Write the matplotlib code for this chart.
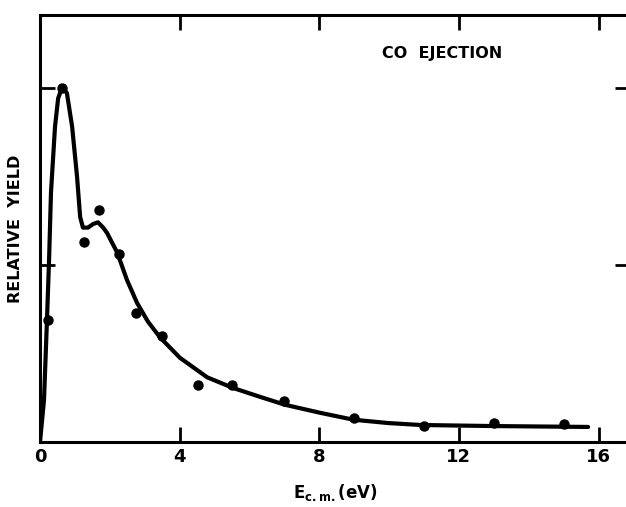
import matplotlib.pyplot as plt
import numpy as np

# measured points (dots)
e_pts = [0.23, 0.63, 1.26, 1.69, 2.26, 2.75, 3.5, 4.53, 5.5, 7.0, 9.0, 11.0, 13.0, 15.0]
y_pts = [0.69, 2.0, 1.13, 1.31, 1.06, 0.73, 0.60, 0.32, 0.32, 0.23, 0.135, 0.09, 0.107, 0.10]

# hand drawn fit curve
e_fit = [0.0, 0.115, 0.20, 0.26, 0.315, 0.43, 0.52, 0.63, 0.77, 0.92, 1.06, 1.15, 1.23,
         1.375, 1.52, 1.66, 1.81, 1.92, 2.21, 2.49, 2.78, 3.09, 3.44, 4.01, 4.79, 5.53,
         6.30, 7.02, 8.02, 8.97, 9.97, 10.9, 12.98, 15.7]
y_fit = [0.0, 0.237, 0.69, 1.03, 1.41, 1.78, 1.94, 2.0, 1.97, 1.78, 1.50, 1.27, 1.21,
         1.21, 1.23, 1.24, 1.21, 1.18, 1.07, 0.915, 0.785, 0.68, 0.59, 0.475, 0.365, 0.305,
         0.255, 0.21, 0.165, 0.126, 0.107, 0.096, 0.09, 0.085]

xticks = [0, 4, 8, 12, 16]

fig = plt.figure(figsize=(6.26, 5.07), dpi=100)
ax = fig.add_axes([40/626, 65/507, 590/626, 427/507])

ax.plot(e_fit, y_fit, color='black', lw=3, solid_capstyle='round', solid_joinstyle='round')
ax.plot(e_pts, y_pts, 'o', color='black', ms=6.5)

ax.set_xlim(0, 16.9)
ax.set_ylim(0, 2.41)
ax.set_xticks(xticks)
ax.set_xticklabels([str(t) for t in xticks], fontsize=13, fontweight='bold')
ax.set_yticks([1, 2])
ax.set_yticklabels([])
ax.tick_params(axis='both', direction='in', length=11, width=2, top=True, right=True, pad=4)
for s in ax.spines.values():
    s.set_linewidth(2.2)

ax.set_ylabel('RELATIVE  YIELD', fontsize=11.5, fontweight='bold', labelpad=8)
ax.set_xlabel(r'E$_{\mathbf{c.m.}}$(eV)', fontsize=12, fontweight='bold', labelpad=12)
ax.text(9.8, 2.19, 'CO  EJECTION', fontsize=11.5, fontweight='bold', va='center')

fig.savefig('out.png', dpi=100)
